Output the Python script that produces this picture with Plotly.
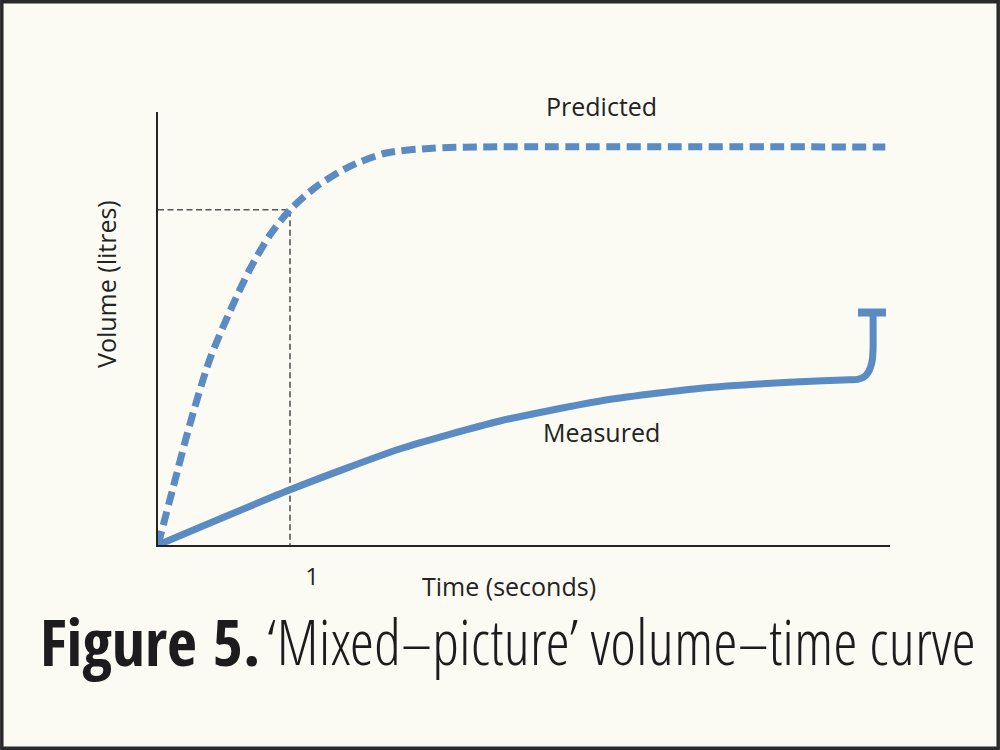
import plotly.graph_objects as go

# ---- data ----
predicted_time = [0.0, 0.11, 0.24, 0.39, 0.55, 0.70, 0.85, 1.0, 1.20, 1.45, 1.73, 2.08, 2.45, 5.51]
predicted_volume = [0.0, 0.69, 1.50, 2.31, 2.94, 3.46, 3.88, 4.19, 4.48, 4.73, 4.90, 4.96, 4.975, 4.975]

measured_time = [0.0, 1.0, 1.83, 2.59, 3.35, 4.11, 4.86, 5.24, 5.30, 5.356, 5.386, 5.409, 5.417, 5.417]
measured_volume = [0.0, 0.69, 1.20, 1.55, 1.80, 1.96, 2.04, 2.065, 2.07, 2.11, 2.175, 2.29, 2.44, 2.906]

cap_time = [5.303, 5.515]
cap_volume = [2.906, 2.906]

fev1_time = 1.0
fev1_volume = 4.19

tick_vals = [1]
tick_text = ["1"]

BLUE = "#5a8bc2"
INK = "#232323"
BG = "#fbfbf3"

fig = go.Figure()

fig.add_trace(go.Scatter(
    x=[0, fev1_time, fev1_time], y=[fev1_volume, fev1_volume, 0],
    mode="lines", line=dict(color="#555555", width=1.6, dash="6px,3.5px"),
    hoverinfo="skip", showlegend=False))

fig.add_trace(go.Scatter(
    x=predicted_time, y=predicted_volume, mode="lines",
    line=dict(color=BLUE, width=7, dash="14px,6.5px", shape="spline", smoothing=0.8),
    name="Predicted", showlegend=False))

fig.add_trace(go.Scatter(
    x=measured_time, y=measured_volume, mode="lines",
    line=dict(color=BLUE, width=7, shape="spline", smoothing=0.6),
    name="Measured", showlegend=False))

fig.add_trace(go.Scatter(
    x=cap_time, y=cap_volume, mode="lines",
    line=dict(color=BLUE, width=8), hoverinfo="skip", showlegend=False))

W, H = 1000, 750
L, R, T, B = 158, 110, 112, 205
pw, ph = W - L - R, H - T - B

def px(xp):
    return (xp - L) / pw

def py(yp):
    return (H - B - yp) / ph

fig.update_layout(
    width=W, height=H,
    margin=dict(l=L, r=R, t=T, b=B),
    paper_bgcolor=BG, plot_bgcolor=BG,
    font=dict(family="Open Sans", color=INK),
    xaxis=dict(range=[0, pw / 132], showgrid=False, zeroline=False,
               showline=True, linecolor=INK, linewidth=2,
               tickvals=tick_vals, ticktext=tick_text, ticks="",
               ticklabelshift=22, ticklabelstandoff=9,
               tickfont=dict(size=24, family="Open Sans", color=INK)),
    yaxis=dict(range=[0, ph / 80], showgrid=False, zeroline=False,
               showline=True, linecolor=INK, linewidth=2,
               showticklabels=False, ticks=""),
    shapes=[dict(type="rect", xref="paper", yref="paper",
                 x0=px(1.8), x1=px(998.2), y0=py(748.2), y1=py(1.8),
                 line=dict(color="#2a2a2a", width=3.5), layer="above")],
)

anns = [
    dict(text="Predicted", x=px(601), y=py(106), size=25),
    dict(text="Measured", x=px(601), y=py(432), size=25),
    dict(text="Time (seconds)", x=px(509), y=py(586), size=25),
    dict(text="Volume (litres)", x=px(106), y=py(284), size=25, angle=-90),
]
for a in anns:
    fig.add_annotation(text=a["text"], x=a["x"], y=a["y"], xref="paper", yref="paper",
                       showarrow=False, xanchor="center", yanchor="middle",
                       textangle=a.get("angle", 0),
                       font=dict(size=a["size"], family="Open Sans", color=INK))

# caption
fig.add_annotation(
    text="Figure 5.", x=px(38), y=py(641), xref="paper", yref="paper", showarrow=False,
    xanchor="left", yanchor="middle",
    font=dict(size=65, family="Open Sans Condensed", weight=700, color="#1c1c1c"))
fig.add_annotation(
    text="‘Mixed–picture’ volume–time curve", x=px(265), y=py(641), xref="paper", yref="paper",
    showarrow=False, xanchor="left", yanchor="middle",
    font=dict(size=62, family="Open Sans Condensed Light", color="#1c1c1c"))

fig.write_html("out.html", config={"displayModeBar": False},
               post_script="document.body.style.margin='0';document.body.style.overflow='hidden';")
